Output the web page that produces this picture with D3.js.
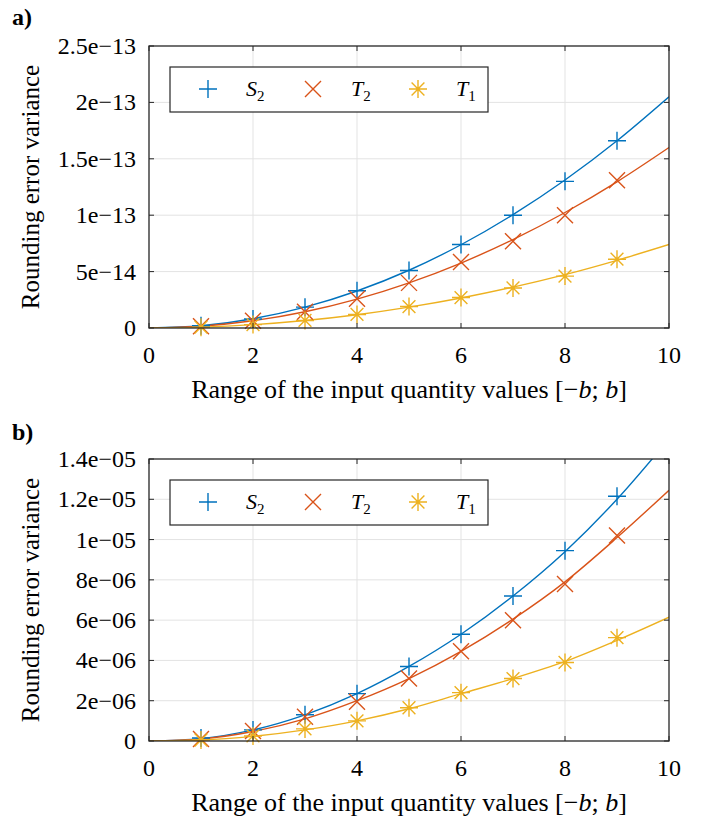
<!DOCTYPE html>
<html>
<head>
<meta charset="utf-8">
<script src="https://cdn.jsdelivr.net/npm/d3@7"></script>
<style>
body{margin:0;background:#fff;}
text{font-family:"Liberation Serif","Times New Roman",serif;fill:#000;}
.gridLines line{stroke:#e3e3e3;stroke-width:1;}
.frame{fill:none;stroke:#262626;stroke-width:1.3;}
.tickMark{stroke:#262626;stroke-width:1;}
.curve{fill:none;stroke-width:1.4;}
.marker{fill:none;stroke-width:1.4;}
.legendBox{fill:#fff;stroke:#262626;stroke-width:1.2;}
</style>
</head>
<body>
<div id="chart"></div>
<script>
(function(){

//data
var xMarks = [1, 2, 3, 4, 5, 6, 7, 8, 9];
var xLine = [0, 1, 2, 3, 4, 5, 6, 7, 8, 9, 10];
var xTicks = [0, 2, 4, 6, 8, 10];

//panel a (values in 1e-13)
var aS2Marks = [0.02, 0.08, 0.185, 0.33, 0.51, 0.74, 1.00, 1.30, 1.66];
var aT2Marks = [0.016, 0.065, 0.145, 0.26, 0.40, 0.585, 0.77, 1.00, 1.31];
var aT1Marks = [0.007, 0.03, 0.067, 0.12, 0.19, 0.27, 0.355, 0.46, 0.61];
var aS2Line = [0, 0.02, 0.082, 0.185, 0.328, 0.512, 0.738, 1.005, 1.312, 1.66, 2.05];
var aT2Line = [0, 0.016, 0.064, 0.144, 0.256, 0.40, 0.576, 0.784, 1.024, 1.296, 1.60];
var aT1Line = [0, 0.0074, 0.0296, 0.0666, 0.118, 0.185, 0.266, 0.362, 0.473, 0.60, 0.74];
var aYTicks = [0, 0.5, 1, 1.5, 2, 2.5];
var aYLabels = ["0", "5e\u221214", "1e\u221213", "1.5e\u221213", "2e\u221213", "2.5e\u221213"];

//panel b (values in 1e-6)
var bS2Marks = [0.15, 0.55, 1.3, 2.35, 3.7, 5.3, 7.2, 9.45, 12.15];
var bT2Marks = [0.1, 0.5, 1.2, 1.95, 3.1, 4.45, 6.0, 7.8, 10.2];
var bT1Marks = [0.05, 0.25, 0.6, 1.0, 1.65, 2.4, 3.1, 3.9, 5.13];
var bS2Line = [0, 0.12, 0.55, 1.3, 2.35, 3.7, 5.3, 7.2, 9.4, 12.0, 15.0];
var bT2Line = [0, 0.1, 0.47, 1.1, 2.0, 3.1, 4.45, 6.05, 7.9, 10.1, 12.45];
var bT1Line = [0, 0.05, 0.23, 0.55, 1.0, 1.6, 2.35, 3.1, 3.95, 5.0, 6.15];
var bYTicks = [0, 2, 4, 6, 8, 10, 12, 14];
var bYLabels = ["0", "2e\u221206", "4e\u221206", "6e\u221206", "8e\u221206", "1e\u221205", "1.2e\u221205", "1.4e\u221205"];

var seriesNames = [["S", "2"], ["T", "2"], ["T", "1"]];
var colors = ["#0072BD", "#D95319", "#EDB120"];

//marker shapes
var plusPath = "M-9,0H9M0,-9V9";
var crossPath = "M-8,-8L8,8M-8,8L8,-8";
var starPath = "M-9,0H9M0,-9V9M-6.4,-6.4L6.4,6.4M-6.4,6.4L6.4,-6.4";
var markerPaths = [plusPath, crossPath, starPath];

var serif = "'Liberation Serif', 'Times New Roman', serif";

window.onload = setChart;

function setChart(){

    var svg = d3.select("#chart")
        .append("svg")
        .attr("width", 701)
        .attr("height", 818);

    drawPanel(svg, {
        id: "a", letter: "a)", top: 46, letterY: 25,
        yMax: 2.5, yTicks: aYTicks, yLabels: aYLabels,
        marks: [aS2Marks, aT2Marks, aT1Marks],
        lines: [aS2Line, aT2Line, aT1Line]
    });

    drawPanel(svg, {
        id: "b", letter: "b)", top: 459, letterY: 440,
        yMax: 14, yTicks: bYTicks, yLabels: bYLabels,
        marks: [bS2Marks, bT2Marks, bT1Marks],
        lines: [bS2Line, bT2Line, bT1Line]
    });
};

function drawPanel(svg, p){

    var left = 149, right = 669, h = 282;
    var top = p.top, bottom = p.top + h;

    var x = d3.scaleLinear().domain([0, 10]).range([left, right]);
    var y = d3.scaleLinear().domain([0, p.yMax]).range([bottom, top]);

    var g = svg.append("g").attr("class", "panel-" + p.id);

    //clip for curves
    g.append("clipPath")
        .attr("id", "clip-" + p.id)
        .append("rect")
        .attr("x", left).attr("y", top)
        .attr("width", right - left).attr("height", h);

    //grid
    var grid = g.append("g").attr("class", "gridLines");
    grid.selectAll(".gx")
        .data(xTicks.slice(1, -1))
        .enter().append("line")
        .attr("x1", function(d){ return x(d); })
        .attr("x2", function(d){ return x(d); })
        .attr("y1", top).attr("y2", bottom);
    grid.selectAll(".gy")
        .data(p.yTicks.slice(1, -1))
        .enter().append("line")
        .attr("y1", function(d){ return y(d); })
        .attr("y2", function(d){ return y(d); })
        .attr("x1", left).attr("x2", right);

    //curves
    var line = d3.line()
        .x(function(d){ return x(d[0]); })
        .y(function(d){ return y(d[1]); })
        .curve(d3.curveMonotoneX);

    var curves = g.append("g").attr("clip-path", "url(#clip-" + p.id + ")");
    p.lines.forEach(function(vals, i){
        curves.append("path")
            .datum(d3.zip(xLine, vals))
            .attr("class", "curve")
            .attr("stroke", colors[i])
            .attr("d", line);
    });

    //markers
    p.marks.forEach(function(vals, i){
        g.selectAll(".m" + i)
            .data(d3.zip(xMarks, vals))
            .enter().append("path")
            .attr("class", "marker")
            .attr("stroke", colors[i])
            .attr("transform", function(d){ return "translate(" + x(d[0]) + "," + y(d[1]) + ")"; })
            .attr("d", markerPaths[i]);
    });

    //ticks, inside on all four sides
    var ticks = g.append("g");
    xTicks.forEach(function(d){
        ticks.append("line").attr("class", "tickMark")
            .attr("x1", x(d)).attr("x2", x(d)).attr("y1", bottom).attr("y2", bottom - 5);
        ticks.append("line").attr("class", "tickMark")
            .attr("x1", x(d)).attr("x2", x(d)).attr("y1", top).attr("y2", top + 5);
    });
    p.yTicks.forEach(function(d){
        ticks.append("line").attr("class", "tickMark")
            .attr("y1", y(d)).attr("y2", y(d)).attr("x1", left).attr("x2", left + 5);
        ticks.append("line").attr("class", "tickMark")
            .attr("y1", y(d)).attr("y2", y(d)).attr("x1", right).attr("x2", right - 5);
    });

    g.append("rect")
        .attr("class", "frame")
        .attr("x", left).attr("y", top)
        .attr("width", right - left).attr("height", h);

    //tick labels
    g.selectAll(".xl")
        .data(xTicks)
        .enter().append("text")
        .attr("x", function(d){ return x(d); })
        .attr("y", bottom + 35)
        .attr("text-anchor", "middle")
        .attr("font-family", serif)
        .attr("font-size", 24)
        .text(function(d){ return d; });

    g.selectAll(".yl")
        .data(p.yTicks)
        .enter().append("text")
        .attr("x", left - 13)
        .attr("y", function(d){ return y(d) + 8; })
        .attr("text-anchor", "end")
        .attr("font-family", serif)
        .attr("font-size", 24)
        .text(function(d, i){ return p.yLabels[i]; });

    //axis titles
    var xt = g.append("text")
        .attr("x", (left + right) / 2)
        .attr("y", bottom + 70)
        .attr("text-anchor", "middle")
        .attr("font-family", serif)
        .attr("font-size", 26);
    xt.append("tspan").text("Range of the input quantity values [\u2212");
    xt.append("tspan").attr("font-style", "italic").text("b");
    xt.append("tspan").text("; ");
    xt.append("tspan").attr("font-style", "italic").text("b");
    xt.append("tspan").text("]");

    g.append("text")
        .attr("transform", "translate(39," + (top + h / 2) + ") rotate(-90)")
        .attr("text-anchor", "middle")
        .attr("font-family", serif)
        .attr("font-size", 25)
        .text("Rounding error variance");

    //panel letter
    g.append("text")
        .attr("x", 12).attr("y", p.letterY)
        .attr("font-family", serif)
        .attr("font-size", 24)
        .attr("font-weight", "bold")
        .text(p.letter);

    //legend
    var lg = g.append("g").attr("transform", "translate(" + (left + 21) + "," + (top + 21) + ")");
    lg.append("rect")
        .attr("class", "legendBox")
        .attr("width", 318).attr("height", 45);

    seriesNames.forEach(function(name, i){
        var ox = i * 105;
        lg.append("path")
            .attr("class", "marker")
            .attr("stroke", colors[i])
            .attr("transform", "translate(" + (38 + ox) + ",22)")
            .attr("d", markerPaths[i]);
        var t = lg.append("text")
            .attr("x", 76 + ox)
            .attr("y", 29)
            .attr("font-family", serif)
            .attr("font-size", 22);
        t.append("tspan").attr("font-style", "italic").text(name[0]);
        t.append("tspan").attr("dy", 5).attr("font-size", 15).text(name[1]);
    });
};

})();
</script>
</body>
</html>
